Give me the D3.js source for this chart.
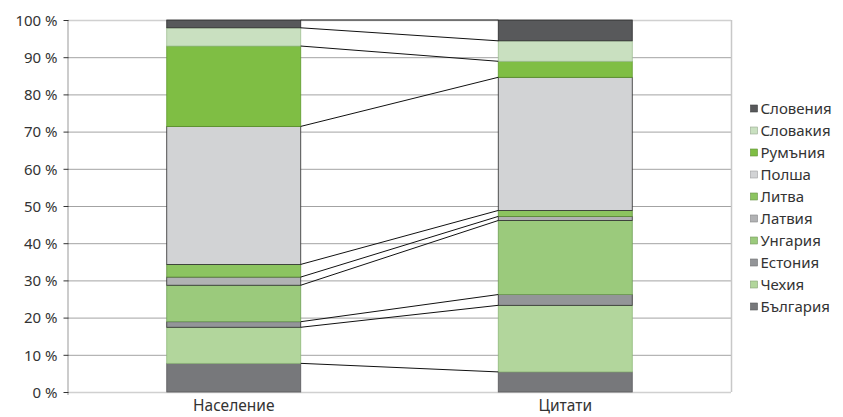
<!DOCTYPE html>
<html lang="bg">
<head>
<meta charset="utf-8">
<script src="https://cdn.jsdelivr.net/npm/d3@7"></script>
<style>
  html, body { margin: 0; padding: 0; background: #fff; }
  svg { display: block; font-family: "Noto Sans", "Open Sans", sans-serif; }
</style>
</head>
<body>
<svg id="chart" width="843" height="417"></svg>
<script>
// ---- data ----
const categories = ["Население", "Цитати"];
const seriesNames = ["България", "Чехия", "Естония", "Унгария", "Латвия", "Литва", "Полша", "Румъния", "Словакия", "Словения"];
const populationValues = [7.7, 9.7, 1.5, 9.8, 2.2, 3.4, 37.1, 21.6, 4.9, 2.1];
const citationValues = [5.4, 17.9, 2.9, 19.9, 1.1, 1.6, 35.8, 4.3, 5.5, 5.6];
const yTicks = [0, 10, 20, 30, 40, 50, 60, 70, 80, 90, 100];

// ---- styles ----
const colors = ["#77787b", "#b2d69c", "#939598", "#9bca7c", "#b1b2b4", "#8cc460", "#d2d3d5", "#7fbe44", "#c9e0c0", "#58595b"];
const strokes = ["#5a5a5c", "#8fb87a", "#2a2a2a", "#6f9e55", "#2a2a2a", "#5f8f3a", "#2a2a2a", "#5e9a2c", "#9fbf93", "#2a2a2a"];

const svg = d3.select("#chart");
const plot = { left: 68, right: 731, top: 20, bottom: 392 };
const barWidth = 134;

const y = d3.scaleLinear().domain([0, 100]).range([plot.bottom, plot.top]);
const x = d3.scalePoint().domain(categories).range([plot.left, plot.right]).padding(0.5);

// stacked data
const table = categories.map((c, i) => {
  const row = { category: c };
  const vals = i === 0 ? populationValues : citationValues;
  seriesNames.forEach((s, j) => row[s] = vals[j]);
  return row;
});
const stack = d3.stack().keys(seriesNames)(table);

// gridlines
svg.append("g").selectAll("line").data(yTicks).join("line")
  .attr("x1", plot.left).attr("x2", plot.right)
  .attr("y1", d => y(d) + 0.5).attr("y2", d => y(d) + 0.5)
  .attr("stroke", d => (d === 0 || d === 100) ? "#d0d0d0" : "#a3a3a3")
  .attr("stroke-width", d => (d === 0 || d === 100) ? 1.5 : 1);

// right border
svg.append("line")
  .attr("x1", plot.right + 0.5).attr("x2", plot.right + 0.5)
  .attr("y1", plot.top).attr("y2", plot.bottom)
  .attr("stroke", "#c8c8c8").attr("stroke-width", 1.5);

// bars
const layers = svg.append("g").selectAll("g").data(stack).join("g")
  .attr("fill", (d, i) => colors[i])
  .attr("stroke", (d, i) => strokes[i])
  .attr("stroke-width", 0.8);
layers.selectAll("rect").data(d => d).join("rect")
  .attr("x", d => x(d.data.category) - barWidth / 2)
  .attr("width", barWidth)
  .attr("y", d => y(d[1]))
  .attr("height", d => y(d[0]) - y(d[1]));

// series lines
const leftCat = categories[0], rightCat = categories[1];
svg.append("g").selectAll("line").data(stack).join("line")
  .attr("x1", x(leftCat) + barWidth / 2)
  .attr("x2", x(rightCat) - barWidth / 2)
  .attr("y1", d => y(d[0][1]))
  .attr("y2", d => y(d[1][1]))
  .attr("stroke", "#111").attr("stroke-width", 1);

// y axis
const yAxis = d3.axisLeft(y).tickValues(yTicks).tickSize(5).tickFormat(d => d + " %");
const gy = svg.append("g").attr("transform", `translate(${plot.left + 0.5},0)`).call(yAxis);
gy.select(".domain").attr("stroke", "#999").attr("d", `M-0.5,${plot.top}V${plot.bottom + 3}`);
gy.selectAll(".tick line").attr("stroke", "#333");
gy.selectAll(".tick text").attr("font-size", 15).attr("fill", "#333").attr("x", -11).attr("dy", "0.35em")
  .style("font-family", "'Noto Sans', sans-serif");

// x labels
svg.append("g").selectAll("text").data(categories).join("text")
  .attr("x", d => x(d)).attr("y", 410.5)
  .attr("text-anchor", "middle").attr("font-size", 15.5).attr("fill", "#333")
  .text(d => d);

// legend (reverse order)
const legendItems = seriesNames.map((s, i) => ({ name: s, color: colors[i] })).reverse();
const lg = svg.append("g").selectAll("g").data(legendItems).join("g")
  .attr("transform", (d, i) => `translate(750.5, ${108.5 + i * 22})`);
lg.append("rect").attr("x", 0).attr("y", -3.5).attr("width", 7).attr("height", 7)
  .attr("fill", d => d.color).attr("stroke", d => d3.color(d.color).darker(0.8)).attr("stroke-width", 0.6);
lg.append("text").attr("x", 10).attr("y", 0).attr("dy", "0.35em")
  .attr("font-size", 15).attr("fill", "#333").text(d => d.name);
</script>
</body>
</html>
